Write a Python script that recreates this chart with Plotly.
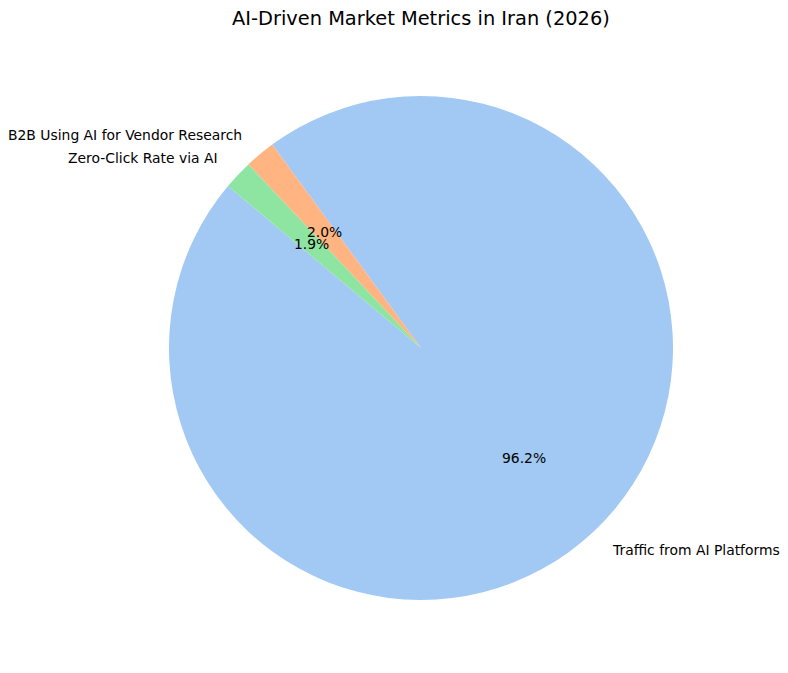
import math
import plotly.graph_objects as go

labels = ["Traffic from AI Platforms", "B2B Using AI for Vendor Research", "Zero-Click Rate via AI"]
values = [96.22, 1.96, 1.88]
colors = ["#a1c9f4", "#ffb482", "#8de5a1"]
title = "AI-Driven Market Metrics in Iran (2026)"

OFF = 8  # page body margin
W, H = 788 - 2 * OFF, 673 - 2 * OFF
CX, CY, R = 421 - OFF, 348 - OFF, 252  # pie center/radius in figure pixels
START = 140  # start angle of first slice in degrees (math convention), counterclockwise

total = sum(values)
first_end = START + 360 * values[0] / total

fig = go.Figure(go.Pie(
    labels=labels, values=values, sort=False, direction="counterclockwise",
    rotation=90 - first_end, marker=dict(colors=colors, line=dict(width=0)),
    textinfo="none", hoverinfo="label+percent", showlegend=False,
    domain=dict(x=[(CX - R) / W, (CX + R) / W], y=[1 - (CY + R) / H, 1 - (CY - R) / H]),
))

ann = []
a0 = START
font = dict(family="DejaVu Sans", size=13.9, color="black")
for lab, v in zip(labels, values):
    span = 360 * v / total
    mid = math.radians(a0 + span / 2)
    a0 += span
    c, s = math.cos(mid), math.sin(mid)
    lx = CX + 1.1 * R * c
    ly = CY - 1.1 * R * s
    ann.append(dict(x=lx / W, y=1 - ly / H, xref="paper", yref="paper", text=lab, showarrow=False,
                    xanchor="left" if c > 0 else "right", yanchor="middle", font=font))
    px = CX + 0.6 * R * c
    py = CY - 0.6 * R * s
    ann.append(dict(x=px / W, y=1 - py / H, xref="paper", yref="paper",
                    text=f"{100 * v / total:.1f}%", showarrow=False,
                    xanchor="center", yanchor="middle", font=font))

ann.append(dict(x=CX / W, y=1 - (18 - OFF) / H, xref="paper", yref="paper", text=title, showarrow=False,
                xanchor="center", yanchor="middle",
                font=dict(family="DejaVu Sans", size=19.4, color="black")))

fig.update_layout(width=W, height=H, margin=dict(l=0, r=0, t=0, b=0),
                  paper_bgcolor="white", plot_bgcolor="white", annotations=ann)
fig.write_html("out.html")
